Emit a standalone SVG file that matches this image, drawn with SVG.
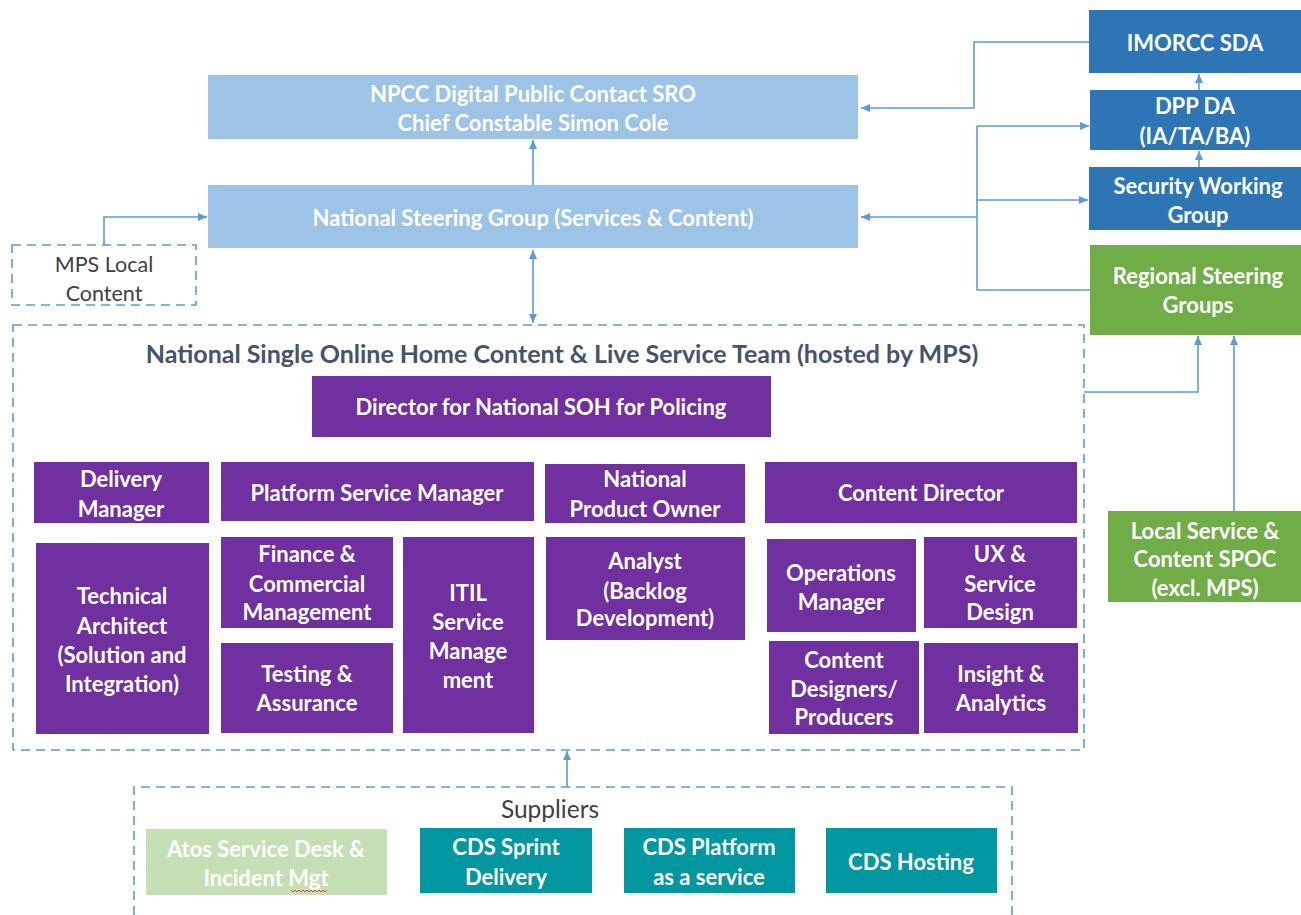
<svg xmlns="http://www.w3.org/2000/svg" width="1301" height="915" viewBox="0 0 1301 915">
<style>
text{font-family:Lato,"Open Sans","Liberation Sans",sans-serif;text-anchor:middle;dominant-baseline:central}
.w{fill:#fff;font-weight:bold;font-size:22px}
.g{fill:#404040;font-size:21.5px}
.t{fill:#44546a;font-weight:bold;font-size:25px}
.lb{fill:#9dc3e6}
.db{fill:#2e75b6}
.gr{fill:#70ad47}
.pu{fill:#7030a0}
.te{fill:#0097a0}
.lg{fill:#c5e0b4}
.dash{fill:none;stroke:#5b9bd5;stroke-width:1.6;stroke-dasharray:9 6}
.c{fill:none;stroke:#5b9bd5;stroke-width:1.6}
</style>
<defs>
<marker id="ah" markerUnits="userSpaceOnUse" markerWidth="10" markerHeight="10" refX="9" refY="5" orient="auto-start-reverse">
<path d="M0,1 L9,5 L0,9 Z" fill="#5b9bd5"/>
</marker>
</defs>
<rect width="1301" height="915" fill="#fff"/>

<g id="connectors">
<path class="c" d="M1089,42 H974 V108 H861" marker-end="url(#ah)"/>
<path class="c" d="M977,126 V290 H1090"/>
<path class="c" d="M977,217 H861" marker-end="url(#ah)"/>
<path class="c" d="M977,126 H1089" marker-end="url(#ah)"/>
<path class="c" d="M977,200 H1088" marker-end="url(#ah)"/>
<path class="c" d="M1199,167 V151" marker-end="url(#ah)"/>
<path class="c" d="M1199,90 V74" marker-end="url(#ah)"/>
<path class="c" d="M533,185 V140" marker-end="url(#ah)"/>
<path class="c" d="M533,250 V323" marker-start="url(#ah)" marker-end="url(#ah)"/>
<path class="c" d="M104,245 V217 H207" marker-end="url(#ah)"/>
<path class="c" d="M1084,392 H1198 V336" marker-end="url(#ah)"/>
<path class="c" d="M1234,511 V336" marker-end="url(#ah)"/>
<path class="c" d="M567,787 V751" marker-end="url(#ah)"/>
</g>

<g id="npcc"><rect class="lb" x="208" y="75" width="650" height="64"/>
<text class="w" x="533" y="93">NPCC Digital Public Contact SRO</text>
<text class="w" x="533" y="122">Chief Constable Simon Cole</text></g>

<g id="nsg"><rect class="lb" x="208" y="185" width="650" height="63"/>
<text class="w" x="533" y="217">National Steering Group (Services &amp; Content)</text></g>

<g id="mps-local"><rect class="dash" x="12" y="245" width="184" height="60"/>
<text class="g" x="104" y="264">MPS Local</text>
<text class="g" x="104" y="293">Content</text></g>

<g id="imorcc"><rect class="db" x="1089" y="10" width="212" height="63"/>
<text class="w" x="1195" y="42">IMORCC SDA</text></g>

<g id="dpp"><rect class="db" x="1090" y="90" width="211" height="60"/>
<text class="w" x="1195" y="105">DPP DA</text>
<text class="w" x="1195" y="135">(IA/TA/BA)</text></g>

<g id="swg"><rect class="db" x="1089" y="167" width="212" height="63"/>
<text class="w" x="1198" y="185">Security Working</text>
<text class="w" x="1198" y="214">Group</text></g>

<g id="rsg"><rect class="gr" x="1090" y="245" width="211" height="90"/>
<text class="w" x="1198" y="275">Regional Steering</text>
<text class="w" x="1198" y="304">Groups</text></g>

<g id="local-spoc"><rect class="gr" x="1108" y="511" width="193" height="91"/>
<text class="w" x="1205" y="530">Local Service &amp;</text>
<text class="w" x="1205" y="558">Content SPOC</text>
<text class="w" x="1205" y="587">(excl. MPS)</text></g>

<g id="team">
<rect class="dash" x="13" y="325" width="1071" height="425"/>
<text class="t" x="562" y="353">National Single Online Home Content &amp; Live Service Team (hosted by MPS)</text>
</g>

<g id="director"><rect class="pu" x="312" y="376" width="459" height="61"/>
<text class="w" x="541" y="406">Director for National SOH for Policing</text></g>

<g id="delivery-manager"><rect class="pu" x="34" y="462" width="175" height="61"/>
<text class="w" x="121" y="478">Delivery</text>
<text class="w" x="121" y="508">Manager</text></g>

<g id="platform-service-manager"><rect class="pu" x="221" y="462" width="313" height="59"/>
<text class="w" x="377" y="492">Platform Service Manager</text></g>

<g id="national-product-owner"><rect class="pu" x="545" y="464" width="200" height="59"/>
<text class="w" x="645" y="478">National</text>
<text class="w" x="645" y="508">Product Owner</text></g>

<g id="content-director"><rect class="pu" x="765" y="462" width="312" height="61"/>
<text class="w" x="921" y="492">Content Director</text></g>

<g id="technical-architect"><rect class="pu" x="36" y="543" width="173" height="191"/>
<text class="w" x="122" y="595">Technical</text>
<text class="w" x="122" y="625">Architect</text>
<text class="w" x="122" y="654">(Solution and</text>
<text class="w" x="122" y="683">Integration)</text></g>

<g id="finance"><rect class="pu" x="221" y="537" width="172" height="91"/>
<text class="w" x="307" y="553">Finance &amp;</text>
<text class="w" x="307" y="583">Commercial</text>
<text class="w" x="307" y="611">Management</text></g>

<g id="testing"><rect class="pu" x="221" y="643" width="172" height="90"/>
<text class="w" x="307" y="673">Testing &amp;</text>
<text class="w" x="307" y="702">Assurance</text></g>

<g id="itil"><rect class="pu" x="403" y="537" width="131" height="196"/>
<text class="w" x="468" y="592">ITIL</text>
<text class="w" x="468" y="621">Service</text>
<text class="w" x="468" y="650">Manage</text>
<text class="w" x="468" y="679">ment</text></g>

<g id="analyst"><rect class="pu" x="546" y="537" width="199" height="103"/>
<text class="w" x="645" y="560">Analyst</text>
<text class="w" x="645" y="590">(Backlog</text>
<text class="w" x="645" y="617">Development)</text></g>

<g id="operations-manager"><rect class="pu" x="767" y="539" width="149" height="93"/>
<text class="w" x="841" y="572">Operations</text>
<text class="w" x="841" y="601">Manager</text></g>

<g id="ux"><rect class="pu" x="924" y="537" width="153" height="91"/>
<text class="w" x="1000" y="553">UX &amp;</text>
<text class="w" x="1000" y="583">Service</text>
<text class="w" x="1000" y="611">Design</text></g>

<g id="content-designers"><rect class="pu" x="769" y="641" width="150" height="93"/>
<text class="w" x="844" y="659">Content</text>
<text class="w" x="844" y="688">Designers/</text>
<text class="w" x="844" y="716">Producers</text></g>

<g id="insight"><rect class="pu" x="924" y="643" width="154" height="90"/>
<text class="w" x="1001" y="673">Insight &amp;</text>
<text class="w" x="1001" y="702">Analytics</text></g>

<g id="suppliers">
<path class="dash" d="M134,915 V787 H1012 V915"/>
<text class="g" x="550" y="808" style="font-size:24.5px">Suppliers</text>
</g>

<g id="atos"><rect class="lg" x="146" y="829" width="241" height="66"/>
<text class="w" x="266" y="848">Atos Service Desk &amp;</text>
<text class="w" x="266" y="877">Incident Mgt</text>
<path d="M291,890 l2,2 l2,-2 l2,2 l2,-2 l2,2 l2,-2 l2,2 l2,-2 l2,2 l2,-2 l2,2 l2,-2 l2,2 l2,-2 l2,2 l2,-2 l2,2 l2,-2" fill="none" stroke="#e04040" stroke-width="1"/></g>

<g id="cds-sprint"><rect class="te" x="420" y="828" width="172" height="65"/>
<text class="w" x="506" y="846">CDS Sprint</text>
<text class="w" x="506" y="876">Delivery</text></g>

<g id="cds-platform"><rect class="te" x="624" y="828" width="171" height="65"/>
<text class="w" x="709" y="846">CDS Platform</text>
<text class="w" x="709" y="876">as a service</text></g>

<g id="cds-hosting"><rect class="te" x="826" y="828" width="171" height="65"/>
<text class="w" x="911" y="861">CDS Hosting</text></g>
</svg>
